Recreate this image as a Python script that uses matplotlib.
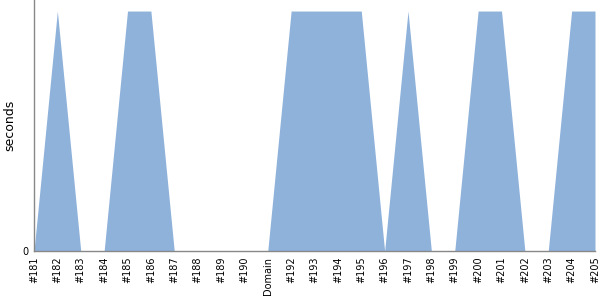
import matplotlib
matplotlib.use("Agg")
import matplotlib.pyplot as plt

# category labels along the x axis
labels = ['#181', '#182', '#183', '#184', '#185', '#186', '#187', '#188', '#189',
          '#190', 'Domain', '#192', '#193', '#194', '#195', '#196', '#197', '#198',
          '#199', '#200', '#201', '#202', '#203', '#204', '#205']
# seconds per run (peak normalised to 1)
seconds = [0, 1, 0, 0, 1, 1, 0, 0, 0, 0, 0, 1, 1, 1, 1, 0, 1, 0, 0, 1, 1, 0, 0, 1, 1]

fig = plt.figure(figsize=(6, 3), dpi=100)
ax = fig.add_axes([34 / 600, 49 / 300, 561 / 600, 251 / 300])

x = list(range(len(labels)))
ax.fill_between(x, seconds, 0, color='#8fb2db', linewidth=0)

ax.set_xlim(0, len(labels) - 1)
ax.set_ylim(0, 1.046)
ax.set_xticks(x)
ax.set_xticklabels(labels, rotation=90, fontsize=7)
ax.set_yticks([0])
ax.set_yticklabels(['0'], fontsize=7)
ax.set_ylabel('seconds', fontsize=9)
ax.tick_params(length=0, pad=4)

for side in ['top', 'right']:
    ax.spines[side].set_visible(False)
for side in ['left', 'bottom']:
    ax.spines[side].set_color('#888888')
    ax.spines[side].set_linewidth(1)

fig.savefig('out.png', dpi=100)
